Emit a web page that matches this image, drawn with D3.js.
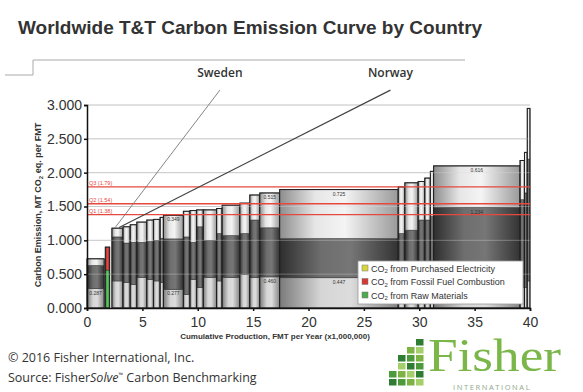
<!DOCTYPE html>
<html><head><meta charset="utf-8">
<script src="https://cdn.jsdelivr.net/npm/d3@7"></script>
<style>body{margin:0;background:#fff} svg{display:block}</style>
</head><body><svg id="c" width="583" height="392"></svg>
<script>
// ---- data ----
const barStart = [0,1.65,2.25,3.25,3.9,4.5,5.4,6.0,6.6,6.9,8.7,9.3,9.9,10.5,11.7,12.2,13.8,14.7,15.6,17.4,28.1,28.7,29.9,30.5,31.0,31.3,39.1,39.5,39.75];
const barEnd   = [1.55,2.05,3.25,3.9,4.5,5.4,6.0,6.6,6.9,8.7,9.3,9.9,10.5,11.7,12.2,13.8,14.7,15.6,17.4,28.1,28.7,29.9,30.5,31.0,31.3,39.1,39.5,39.75,40.0];
const rawMaterials = [0.287,0.56,0.40,0.38,0.35,0.45,0.42,0.40,0.38,0.277,0.20,0.42,0.30,0.45,0.40,0.45,0.50,0.45,0.460,0.447,0.40,0.35,0.40,0.30,0.35,0.25,0.30,0.30,0.40];
const fossilFuel = [0.34,0.34,0.65,0.58,0.62,0.52,0.56,0.60,0.65,0.744,0.85,0.55,0.90,0.55,0.70,0.62,0.60,0.85,0.725,0.578,0.70,0.80,0.90,1.00,1.00,1.234,1.30,1.40,1.80];
const purchasedElectricity = [0.10,0.0,0.13,0.24,0.26,0.30,0.32,0.31,0.31,0.349,0.38,0.47,0.25,0.45,0.37,0.45,0.45,0.37,0.515,0.725,0.69,0.70,0.57,0.62,0.67,0.616,0.58,0.60,0.75];
const highlightedBar = 1;
const labelledSegments = [[0,"raw"],[9,"raw"],[9,"elec"],[18,"raw"],[18,"elec"],[19,"raw"],[19,"elec"],[25,"elec"],[25,"fossil"]];
const quartileNames = ["Q3","Q2","Q1"];
const quartileValues = [1.79,1.54,1.38];
const xTicks = [0,5,10,15,20,25,30,35,40];
const yTicks = [0,0.5,1,1.5,2,2.5,3];
const countries = ["Sweden","Norway"];
const countryBarX = [2.5,2.9];
const countryBarY = [1.18,1.19];
const countryLabelX = [12.0,27.4];
const countryLabelY = [3.22,3.22];
const legendItems = ["Purchased Electricity","Fossil Fuel Combustion","Raw Materials"];
const legendColors = ["#d6d43c","#d33a34","#4fa94f"];

// ---- drawing ----
const svg = d3.select("#c");
const x = d3.scaleLinear().domain([0,40]).range([87,530]);
const y = d3.scaleLinear().domain([0,3]).range([308,105]);
const defs = svg.append("defs");
function grad(id, stops){
  const g = defs.append("linearGradient").attr("id",id).attr("x1","0").attr("x2","1").attr("y1","0").attr("y2","0");
  stops.forEach(([o,c])=>g.append("stop").attr("offset",o).attr("stop-color",c));
}
grad("gElec",[[0,"#8d8d8d"],[0.3,"#e6e6e6"],[0.55,"#f4f4f4"],[1,"#9a9a9a"]]);
grad("gFossil",[[0,"#2e2e2e"],[0.35,"#6e6e6e"],[0.6,"#767676"],[1,"#333"]]);
grad("gRaw",[[0,"#7a7a7a"],[0.35,"#d6d6d6"],[0.6,"#dcdcdc"],[1,"#858585"]]);
grad("gGreen",[[0,"#2f8a36"],[0.5,"#5cc15f"],[1,"#2f8a36"]]);
grad("gRed",[[0,"#9e2222"],[0.5,"#e04a42"],[1,"#9e2222"]]);

// title
svg.append("text").attr("x",18).attr("y",34).attr("font-family","Liberation Sans, Arial, sans-serif")
  .attr("font-weight","bold").attr("font-size",19).attr("fill","#333")
  .text("Worldwide T&T Carbon Emission Curve by Country");
svg.append("path").attr("d","M5,75H33V60H465").attr("fill","none").attr("stroke","#aaa").attr("stroke-width",1);

// grid
const grid = svg.append("g");
grid.selectAll("line").data(yTicks.filter(d=>d>0)).join("line")
  .attr("x1",x(0)).attr("x2",x(40)).attr("y1",d=>y(d)).attr("y2",d=>y(d))
  .attr("stroke","#c4c4c4").attr("stroke-width",1);

// bars
const bars = barStart.map((s,i)=>({i,s,e:barEnd[i],raw:rawMaterials[i],fossil:fossilFuel[i],elec:purchasedElectricity[i]}));
const bg = svg.append("g");
bars.forEach(b=>{
  const segs = [
    {k:"raw",v0:0,v1:b.raw},
    {k:"fossil",v0:b.raw,v1:b.raw+b.fossil},
    {k:"elec",v0:b.raw+b.fossil,v1:b.raw+b.fossil+b.elec}
  ].filter(s=>s.v1>s.v0);
  const hl = b.i===highlightedBar;
  const fills = hl ? {raw:"url(#gGreen)",fossil:"url(#gRed)",elec:"#d6d43c"} : {raw:"url(#gRaw)",fossil:"url(#gFossil)",elec:"url(#gElec)"};
  bg.selectAll(null).data(segs).join("rect")
    .attr("x",x(b.s)).attr("width",x(b.e)-x(b.s))
    .attr("y",d=>y(d.v1)).attr("height",d=>y(d.v0)-y(d.v1))
    .attr("fill",d=>fills[d.k]).attr("stroke","#3a3a3a").attr("stroke-width",0.6);
  bg.append("rect").attr("x",x(b.s)).attr("width",x(b.e)-x(b.s))
    .attr("y",y(b.raw+b.fossil+b.elec)).attr("height",y(0)-y(b.raw+b.fossil+b.elec))
    .attr("fill","none").attr("stroke","#1e1e1e").attr("stroke-width",1);
});
// segment labels
labelledSegments.forEach(([i,k])=>{
  const b = bars[i];
  const top = k==="raw"? b.raw : k==="fossil"? b.raw+b.fossil : b.raw+b.fossil+b.elec;
  svg.append("text").attr("x",(x(b.s)+x(b.e))/2).attr("y",y(top)+6)
    .attr("text-anchor","middle").attr("font-family","Liberation Sans, Arial, sans-serif")
    .attr("font-size",5).attr("fill","#333").text(b[k].toFixed(3));
});
// grid overlay
svg.append("g").selectAll("line").data(yTicks.filter(d=>d>0)).join("line")
  .attr("x1",x(0)).attr("x2",x(40)).attr("y1",d=>y(d)).attr("y2",d=>y(d))
  .attr("stroke","#ddd").attr("stroke-opacity",0.35).attr("stroke-width",1);

// quartile lines
const q = svg.append("g");
q.selectAll("line").data(quartileValues).join("line")
  .attr("x1",x(0)).attr("x2",x(40)).attr("y1",d=>y(d)).attr("y2",d=>y(d))
  .attr("stroke","#e5483e").attr("stroke-width",1.4);
q.selectAll("text").data(quartileValues).join("text")
  .attr("x",x(0)+2).attr("y",d=>y(d)-2).attr("font-family","Liberation Sans, Arial, sans-serif")
  .attr("font-size",5.5).attr("fill","#e5483e").text((d,i)=>`${quartileNames[i]} (${d.toFixed(2)})`);

// country annotation
countries.forEach((c,i)=>{
  svg.append("line").attr("x1",x(countryLabelX[i])).attr("y1",y(countryLabelY[i]))
    .attr("x2",x(countryBarX[i])).attr("y2",y(countryBarY[i]))
    .attr("stroke",i===0?"#777":"#444").attr("stroke-width",i===0?0.9:1.2);
  svg.append("text").attr("x",x(countryLabelX[i])).attr("y",y(countryLabelY[i])-13)
    .attr("text-anchor","middle").attr("font-family","Open Sans, sans-serif").attr("font-weight",600)
    .attr("font-size",12).attr("fill","#333").text(c);
});

// axes
const ax = svg.append("g").attr("font-family","Liberation Sans, Arial, sans-serif");
const yA = ax.append("g").attr("transform",`translate(${x(0)},0)`)
  .call(d3.axisLeft(y).tickValues(yTicks).tickFormat(d3.format(".3f")).tickSize(3).tickPadding(2));
yA.selectAll("text").attr("font-size",14).attr("fill","#333").attr("font-family","Liberation Sans, Arial, sans-serif");
yA.selectAll("line,path").attr("stroke","#111").attr("stroke-width",1.5);
const xA = ax.append("g").attr("transform",`translate(0,${y(0)})`)
  .call(d3.axisBottom(x).tickValues(xTicks).tickFormat(d3.format("d")).tickSize(3).tickPadding(6));
xA.selectAll("text").attr("font-size",14).attr("fill","#333").attr("font-family","Liberation Sans, Arial, sans-serif");
xA.selectAll("line,path").attr("stroke","#111").attr("stroke-width",1.5);
svg.append("text").attr("transform","translate(41,205) rotate(-90)").attr("text-anchor","middle")
  .attr("font-family","Liberation Sans, Arial, sans-serif").attr("font-weight","bold").attr("font-size",9).attr("fill","#333")
  .html("Carbon Emission, MT CO<tspan font-size='6' dy='2'>2</tspan><tspan dy='-2'> eq. per FMT</tspan>");
svg.append("text").attr("x",275).attr("y",339).attr("text-anchor","middle")
  .attr("font-family","Liberation Sans, Arial, sans-serif").attr("font-weight","bold").attr("font-size",8).attr("fill","#333")
  .text("Cumulative Production, FMT per Year (x1,000,000)");

// legend
const lg = svg.append("g").attr("transform","translate(358,261)");
lg.append("rect").attr("width",165).attr("height",43).attr("fill","#fff").attr("stroke","#999").attr("stroke-width",0.8);
legendItems.forEach((t,i)=>{
  lg.append("rect").attr("x",4).attr("y",4+i*13.5).attr("width",6).attr("height",6).attr("fill",legendColors[i]).attr("stroke","#777").attr("stroke-width",0.5);
  lg.append("text").attr("x",13).attr("y",10.5+i*13.5).attr("font-family","Liberation Sans, Arial, sans-serif")
    .attr("font-size",9).attr("fill","#333")
    .html(`CO<tspan font-size="6" dy="1.5">2</tspan><tspan dy="-1.5"> from ${t}</tspan>`);
});

// footer
svg.append("text").attr("x",8).attr("y",362).attr("font-family","Open Sans, sans-serif").attr("font-size",12.5).attr("fill","#333")
  .text("© 2016 Fisher International, Inc.");
svg.append("text").attr("x",8).attr("y",382).attr("font-family","Open Sans, sans-serif").attr("font-size",12.5).attr("fill","#333")
  .html("Source: Fisher<tspan font-style='italic'>Solve</tspan><tspan font-size='6' dy='-5'>™</tspan><tspan dy='5'> Carbon Benchmarking</tspan>");

// logo
const logo = svg.append("g");
const cols = [[1,1],[1,1,1,1],[1,1,1,1,1],[1,1,1,1,1,1]];
const greens = ["#2f7d32","#4c9a3c","#7cb342","#a5cf6a"];
cols.forEach((c,ci)=>{
  c.forEach((_,ri)=>{
    logo.append("rect").attr("x",389+ci*9).attr("y",387-(ri+1)*8).attr("width",7.5).attr("height",6.5)
      .attr("fill",greens[(ci+ri)%4]);
  });
});
logo.append("text").attr("x",428).attr("y",371).attr("font-family","Liberation Serif, serif").attr("font-size",46)
  .attr("textLength",133).attr("lengthAdjust","spacingAndGlyphs")
  .attr("fill","#7ab648").text("Fisher");
logo.append("text").attr("x",453).attr("y",390).attr("font-family","Open Sans, sans-serif").attr("font-size",7.5)
  .attr("letter-spacing",1.6).attr("fill","#8fa88a").text("INTERNATIONAL");
</script></body></html>
